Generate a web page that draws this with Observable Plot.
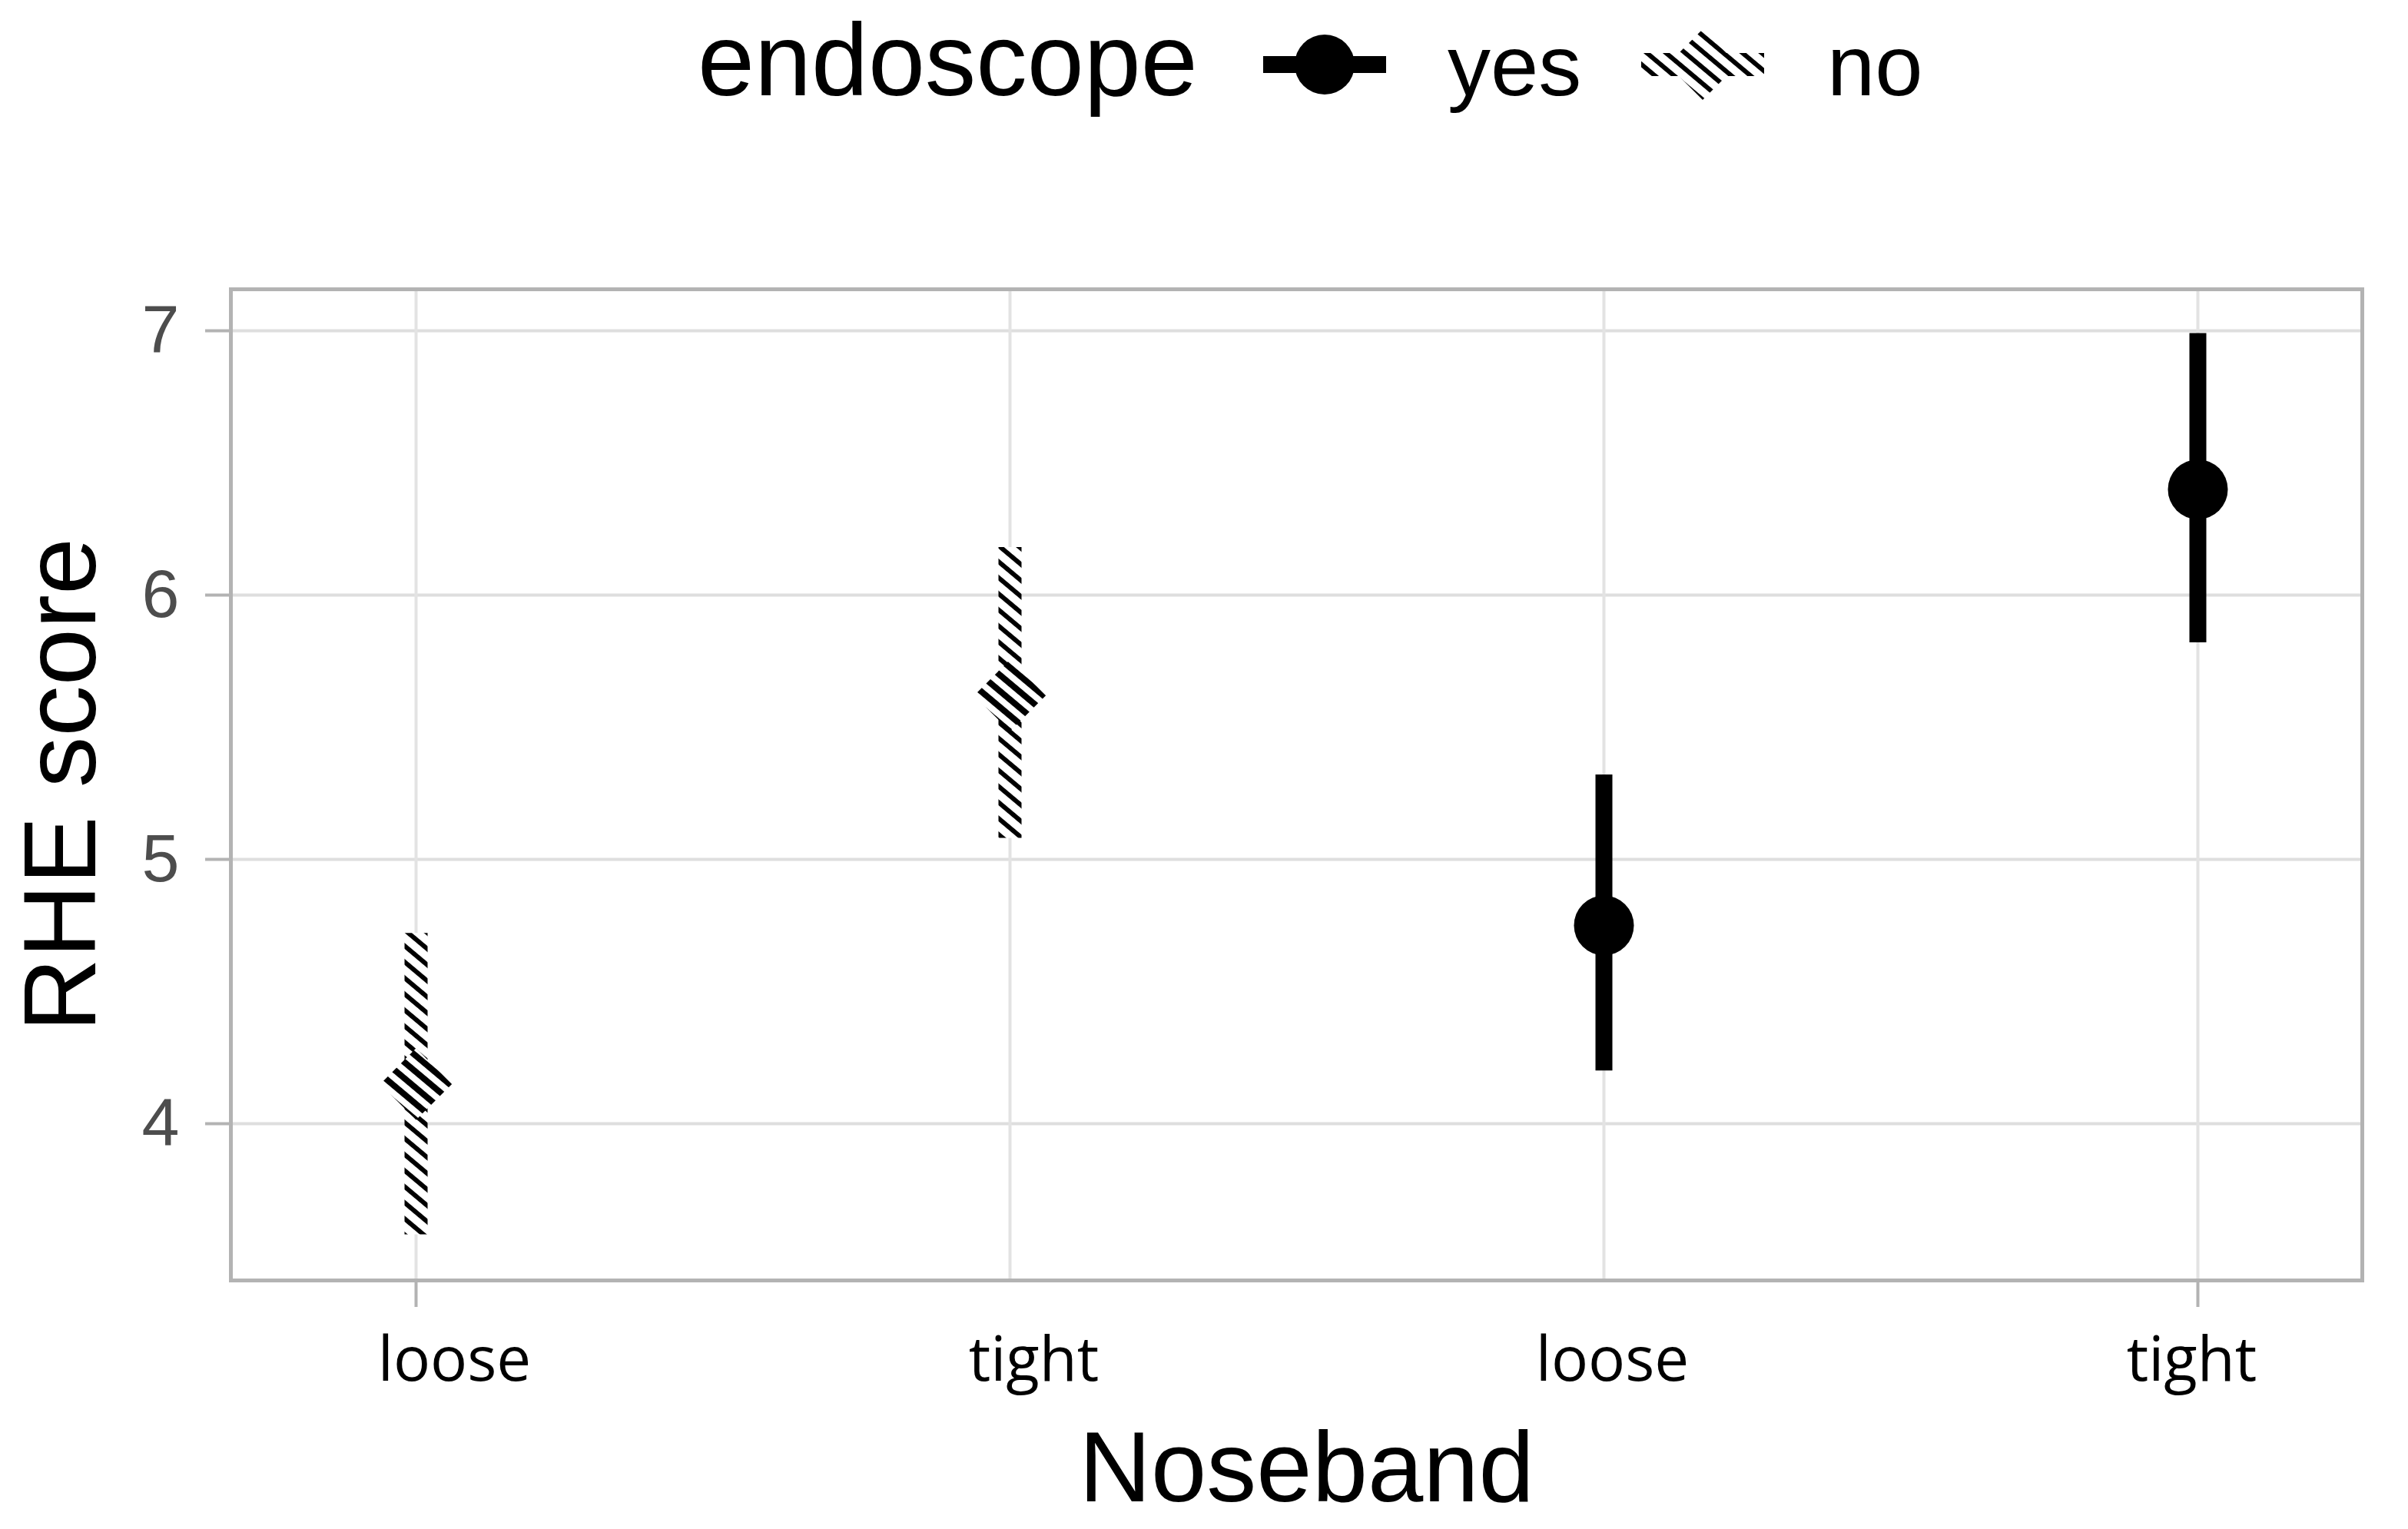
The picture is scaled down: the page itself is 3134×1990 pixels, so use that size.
<!DOCTYPE html>
<html>
<head>
<meta charset="utf-8">
<script src="https://cdn.jsdelivr.net/npm/d3@7"></script>
<script src="https://cdn.jsdelivr.net/npm/@observablehq/plot@0.6"></script>
<style>
  html, body { margin: 0; padding: 0; background: white; }
  #legend { display: block; }
  #chart svg { display: block; }
</style>
</head>
<body>
<svg id="legend" width="3134" height="180" xmlns="http://www.w3.org/2000/svg">
  <defs>
    <pattern id="hatchL" patternUnits="userSpaceOnUse" width="16" height="16" patternTransform="rotate(40)">
      <rect width="16" height="16" fill="white"></rect>
      <rect width="16" height="6" y="0" fill="black"></rect>
    </pattern>
  </defs>
  <text x="908" y="124" font-family="Liberation Sans" font-size="133" fill="black">endoscope</text>
  <line x1="1644" x2="1804" y1="84" y2="84" stroke="black" stroke-width="22"></line>
  <circle cx="1724" cy="84" r="39" fill="black"></circle>
  <text x="1884" y="124" font-family="Liberation Sans" font-size="112" fill="black">yes</text>
  <line x1="2136" x2="2296" y1="84" y2="84" stroke="url(#hatchL)" stroke-width="30"></line>
  <path d="M2216,38 L2262,84 L2216,130 L2170,84 Z" fill="url(#hatchL)"></path>
  <text x="2378" y="124" font-family="Liberation Sans" font-size="112" fill="black">no</text>
</svg>
<div id="chart"></div>
<script>
// ---- data ----
const keys = ["no-loose", "no-tight", "yes-loose", "yes-tight"];
const noseband = ["loose", "tight", "loose", "tight"];
const endoscope = ["no", "no", "yes", "yes"];
const means = [4.15, 5.62, 4.75, 6.40];
const lower = [3.58, 5.08, 4.20, 5.82];
const upper = [4.72, 6.18, 5.32, 6.99];
const yTicks = [4, 5, 6, 7];
// small horizontal nudges of the category labels, as in the original
const labelNudge = [50, 31, 11, -8];

const rows = keys.map((k, i) => ({key: k, noseband: noseband[i], endoscope: endoscope[i], mean: means[i], lo: lower[i], hi: upper[i]}));
const yesRows = rows.filter(d => d.endoscope === "yes");
const noRows = rows.filter(d => d.endoscope === "no");
const labelOf = Object.fromEntries(rows.map(d => [d.key, d.noseband]));

const plot = Plot.plot({
  width: 3134,
  height: 1810,
  marginTop: 196,
  marginBottom: 324,
  marginLeft: 300,
  marginRight: 60,
  style: {fontFamily: "Liberation Sans", background: "white", overflow: "visible"},
  x: {type: "point", domain: keys, padding: 0, insetLeft: 240, insetRight: 214},
  y: {domain: [3.407, 7.157]},
  marks: [
    Plot.gridY({ticks: yTicks, stroke: "#dedede", strokeOpacity: 1, strokeWidth: 4}),
    Plot.gridX({stroke: "#e3e3e3", strokeOpacity: 1, strokeWidth: 4}),
    Plot.axisY({ticks: yTicks, tickFormat: d => String(d), tickSize: 33, tickPadding: 34, fontSize: 88, fill: "#4d4d4d", stroke: "#b3b3b3", strokeWidth: 4, label: null}),
    Plot.axisX({ticks: [keys[0], keys[3]], tickSize: 35, tickFormat: () => "", stroke: "#b3b3b3", strokeWidth: 4, label: null}),
    ...keys.map((k, i) => Plot.axisX({ticks: [k], tickSize: 0, tickPadding: 74, tickFormat: v => labelOf[v], fontSize: 80, fontFamily: "Open Sans", fill: "black", dx: labelNudge[i], label: null})),
    Plot.frame({stroke: "#b3b3b3", strokeWidth: 5}),
    // "no" endoscope: hatched interval + hatched diamond
    Plot.ruleX(noRows, {x: "key", y1: "lo", y2: "hi", stroke: "url(#hatch)", strokeWidth: 30}),
    Plot.dot(noRows, {x: "key", y: "mean", symbol: "diamond2", r: 42, fill: "url(#hatchD)", stroke: "none"}),
    // "yes" endoscope: solid interval + dot
    Plot.ruleX(yesRows, {x: "key", y1: "lo", y2: "hi", stroke: "black", strokeWidth: 22}),
    Plot.dot(yesRows, {x: "key", y: "mean", r: 39, fill: "black", stroke: "none"}),
    // axis titles
    Plot.text(["RHE score"], {frameAnchor: "left", text: d => d, rotate: -90, textAnchor: "middle", lineAnchor: "middle", dx: -219, fontSize: 133, fill: "black", fontFamily: "Liberation Sans"}),
    Plot.text(["Noseband"], {frameAnchor: "bottom", text: d => d, textAnchor: "middle", lineAnchor: "middle", dy: 246, dx: 13, fontSize: 130, fill: "black", fontFamily: "Liberation Sans"})
  ]
});

d3.select(plot).insert("defs", ":first-child").html(
  '<pattern id="hatch" patternUnits="userSpaceOnUse" width="16" height="16" patternTransform="rotate(40)">' +
  '<rect width="16" height="16" fill="white"></rect>' +
  '<rect width="16" height="6" y="0" fill="black"></rect>' +
  '</pattern>' +
  '<pattern id="hatchD" patternUnits="userSpaceOnUse" width="16" height="16" patternTransform="rotate(40)">' +
  '<rect width="16" height="16" fill="white"></rect>' +
  '<rect width="16" height="8" y="0" fill="black"></rect>' +
  '</pattern>'
);

document.getElementById("chart").appendChild(plot);
</script>
</body>
</html>
